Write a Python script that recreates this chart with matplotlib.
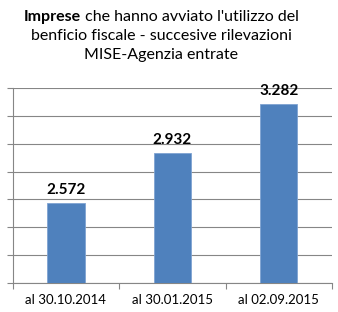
import matplotlib
matplotlib.use("Agg")
import matplotlib.pyplot as plt

# === DATA ===
categories = ["al 30.10.2014", "al 30.01.2015", "al 02.09.2015"]
values = [2572, 2932, 3282]
value_labels = ["2.572", "2.932", "3.282"]

plt.rcParams["font.family"] = ["Lato", "DejaVu Sans"]

fig = plt.figure(figsize=(3.38, 3.12), dpi=100)
ax = fig.add_axes([12.7 / 338, 1 - 283 / 312, (332 - 12.7) / 338, (283 - 88) / 312])

x = range(len(categories))
ax.bar(x, values, width=0.35, color="#4F81BD", edgecolor="#7FA3D2", linewidth=0.6, zorder=3)

for i, v in enumerate(values):
    ax.text(i, v + 45, value_labels[i], ha="center", va="bottom",
            fontsize=11, fontweight="bold", color="black")

ax.set_xlim(-0.5, len(categories) - 0.5)
ax.set_ylim(2000, 3400)
ax.set_yticks(range(2000, 3401, 200))
ax.set_yticklabels([])
ax.yaxis.grid(True, color="#868686", linewidth=0.8, zorder=0)
ax.tick_params(axis="y", length=4, color="#868686", width=0.8)

ax.set_xticks(x)
ax.set_xticklabels(categories, fontsize=9.5)
ax.set_xticks([i + 0.5 for i in range(-1, len(categories))], minor=True)
ax.tick_params(axis="x", which="major", length=0, pad=8)
ax.tick_params(axis="x", which="minor", length=4, color="#868686", width=0.8)

for s in ["top", "right"]:
    ax.spines[s].set_visible(False)
for s in ["left", "bottom"]:
    ax.spines[s].set_color("#868686")
    ax.spines[s].set_linewidth(0.8)

# === TITLE (first word bold) ===
cx = 161.5
fig.canvas.draw()
r = fig.canvas.get_renderer()
t1 = fig.text(0, 0, "Imprese", fontsize=11.5, fontweight="bold")
t2 = fig.text(0, 0, " che hanno avviato l'utilizzo del", fontsize=11.5)
w1 = t1.get_window_extent(r).width
w2 = t2.get_window_extent(r).width
x0 = cx - (w1 + w2) / 2
t1.set_position((x0 / 338, 1 - 21 / 312))
t2.set_position(((x0 + w1) / 338, 1 - 21 / 312))
fig.text(cx / 338, 1 - 40 / 312, "benficio fiscale - succesive rilevazioni", fontsize=11.5, ha="center")
fig.text(cx / 338, 1 - 59 / 312, "MISE-Agenzia entrate", fontsize=11.5, ha="center")

fig.savefig("out.png", dpi=100)
